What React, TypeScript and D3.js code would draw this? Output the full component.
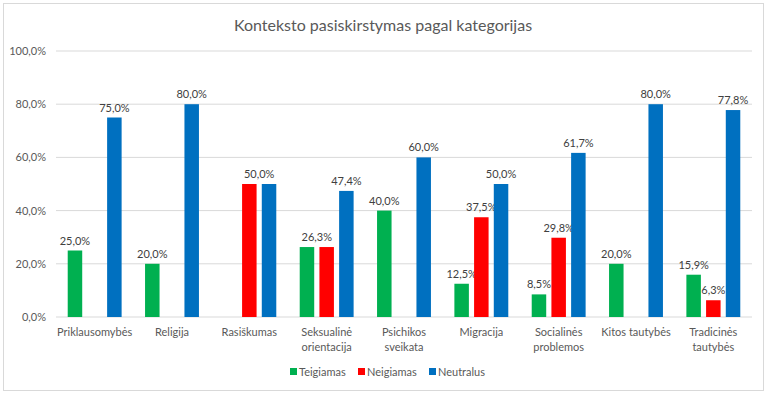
import React from "react";
import * as d3 from "d3";

const categories = [
  "Priklausomybės",
  "Religija",
  "Rasiškumas",
  "Seksualinė orientacija",
  "Psichikos sveikata",
  "Migracija",
  "Socialinės problemos",
  "Kitos tautybės",
  "Tradicinės tautybės",
];
// category labels as Excel wrapped them
const categoryLines = [
  ["Priklausomybės"],
  ["Religija"],
  ["Rasiškumas"],
  ["Seksualinė", "orientacija"],
  ["Psichikos", "sveikata"],
  ["Migracija"],
  ["Socialinės", "problemos"],
  ["Kitos tautybės"],
  ["Tradicinės", "tautybės"],
];

const seriesNames = ["Teigiamas", "Neigiamas", "Neutralus"];
const seriesColors = ["#00B050", "#FF0000", "#0070C0"];

const teigiamas = [25.0, 20.0, 0, 26.3, 40.0, 12.5, 8.5, 20.0, 15.9];
const neigiamas = [0, 0, 50.0, 26.3, 0, 37.5, 29.8, 0, 6.3];
const neutralus = [75.0, 80.0, 50.0, 47.4, 60.0, 50.0, 61.7, 80.0, 77.8];

const yTicks = [0, 20, 40, 60, 80, 100];

const fmt = (v: number) => v.toFixed(1).replace(".", ",") + "%";

export default function App() {
  const width = 768;
  const height = 395;
  const margin = { top: 51, right: 16, bottom: 78, left: 56 };
  const font = "Lato, 'Open Sans', sans-serif";
  const textColor = "#595959";

  const allSeries = [teigiamas, neigiamas, neutralus];

  const x = d3
    .scaleBand()
    .domain(categories)
    .range([margin.left, width - margin.right])
    .paddingInner(0)
    .paddingOuter(0);

  const barW = 14.5;
  const step = 19.7;

  const y = d3
    .scaleLinear()
    .domain([0, 100])
    .range([height - margin.bottom, margin.top]);

  return (
    <svg
      width={width}
      height={height}
      style={{ position: "absolute", left: 0, top: 0, background: "#fff" }}
      fontFamily={font}
    >
      <rect x={3.5} y={3.5} width={760} height={387} fill="#fff" stroke="#d9d9d9" />
      <text x={383} y={31} textAnchor="middle" fontSize={16} fill={textColor}>
        Konteksto pasiskirstymas pagal kategorijas
      </text>

      {yTicks.map((t) => (
        <g key={t}>
          <line
            x1={margin.left}
            x2={width - margin.right}
            y1={y(t)}
            y2={y(t)}
            stroke="#d9d9d9"
            strokeWidth={1}
          />
          <text x={46} y={y(t) + 4} textAnchor="end" fontSize={11} fill={textColor}>
            {fmt(t)}
          </text>
        </g>
      ))}

      {categories.map((c, ci) => {
        const cx = (x(c) ?? 0) + x.bandwidth() / 2;
        return (
          <g key={c}>
            {allSeries.map((s, si) => {
              const v = s[ci];
              if (!v) return null;
              const bx = cx + (si - 1) * step - barW / 2;
              // equal neighbouring values: Excel's labels sit on top of each other, show one between
              const prev = si > 0 ? allSeries[si - 1][ci] : 0;
              const next = si < 2 ? allSeries[si + 1][ci] : 0;
              let lx = bx + barW / 2;
              if (prev === v) return (
                <rect key={si} x={bx} y={y(v)} width={barW} height={y(0) - y(v)} fill={seriesColors[si]} />
              );
              if (next === v) lx += step / 2;
              return (
                <g key={si}>
                  <rect
                    x={bx}
                    y={y(v)}
                    width={barW}
                    height={y(0) - y(v)}
                    fill={seriesColors[si]}
                  />
                  <text x={lx} y={y(v) - 6} textAnchor="middle" fontSize={11} fill="#404040">
                    {fmt(v)}
                  </text>
                </g>
              );
            })}
            {categoryLines[ci].map((line, li) => (
              <text
                key={li}
                x={cx}
                y={336 + li * 14.5}
                textAnchor="middle"
                fontSize={11}
                fill={textColor}
              >
                {line}
              </text>
            ))}
          </g>
        );
      })}

      {seriesNames.map((n, i) => {
        const lx = [290, 358, 429][i];
        return (
          <g key={n}>
            <rect x={lx} y={368} width={7} height={7} fill={seriesColors[i]} />
            <text x={lx + 9} y={375.5} fontSize={11} fill={textColor}>
              {n}
            </text>
          </g>
        );
      })}
    </svg>
  );
}
